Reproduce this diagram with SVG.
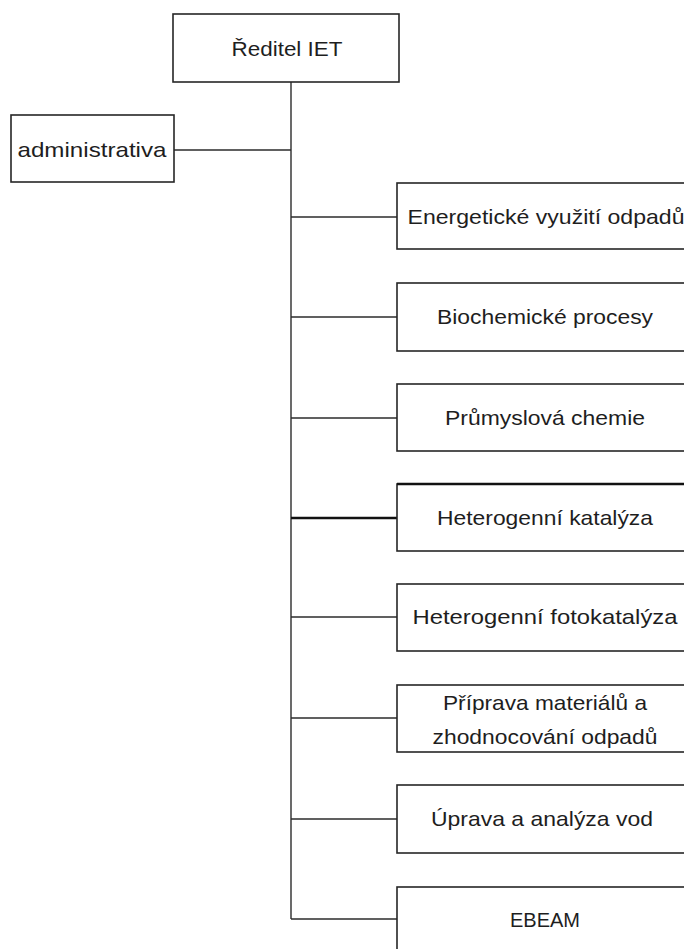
<svg xmlns="http://www.w3.org/2000/svg" width="684" height="949" viewBox="0 0 684 949">
<style>
.box{fill:#fff;stroke:#262626;stroke-width:1.6}
.ln{stroke:#2b2b2b;stroke-width:1.4;fill:none}
text{font-family:"Liberation Sans","Open Sans",sans-serif;font-size:21px;fill:#1e1e1e;text-anchor:middle}
</style>
<rect width="684" height="949" fill="#fff"/>
<g id="connectors">
<line class="ln" x1="291" y1="82" x2="291" y2="919"/>
<line class="ln" x1="174" y1="150" x2="291" y2="150"/>
<line class="ln" x1="291" y1="217" x2="397" y2="217"/>
<line class="ln" x1="291" y1="317" x2="397" y2="317"/>
<line class="ln" x1="291" y1="418" x2="397" y2="418"/>
<line class="ln" x1="291" y1="518" x2="397" y2="518" style="stroke-width:2.6;stroke:#111"/>
<line class="ln" x1="291" y1="617" x2="397" y2="617"/>
<line class="ln" x1="291" y1="718" x2="397" y2="718"/>
<line class="ln" x1="291" y1="819" x2="397" y2="819"/>
<line class="ln" x1="291" y1="919" x2="397" y2="919"/>
</g>
<g id="reditel"><rect class="box" x="173" y="14" width="226" height="68"/><text x="287" y="56" textLength="111" lengthAdjust="spacingAndGlyphs">Ředitel IET</text></g>
<g id="administrativa"><rect class="box" x="11" y="115" width="163" height="67"/><text x="92" y="157" textLength="149" lengthAdjust="spacingAndGlyphs">administrativa</text></g>
<g id="energeticke"><rect class="box" x="397" y="183" width="300" height="66"/><text x="546" y="224" textLength="277" lengthAdjust="spacingAndGlyphs">Energetické využití odpadů</text></g>
<g id="biochemicke"><rect class="box" x="397" y="283" width="300" height="68"/><text x="545" y="324" textLength="216" lengthAdjust="spacingAndGlyphs">Biochemické procesy</text></g>
<g id="prumyslova"><rect class="box" x="397" y="384" width="300" height="67"/><text x="545" y="425" textLength="200" lengthAdjust="spacingAndGlyphs">Průmyslová chemie</text></g>
<g id="heterogenni-katalyza"><rect class="box" x="397" y="484" width="300" height="67"/><line x1="397" y1="484" x2="697" y2="484" style="stroke:#111;stroke-width:2.4"/><text x="545" y="525" textLength="216" lengthAdjust="spacingAndGlyphs">Heterogenní katalýza</text></g>
<g id="fotokatalyza"><rect class="box" x="397" y="584" width="300" height="67"/><text x="545" y="624" textLength="265" lengthAdjust="spacingAndGlyphs">Heterogenní fotokatalýza</text></g>
<g id="priprava"><rect class="box" x="397" y="685" width="300" height="67"/><text x="545" y="710" textLength="204" lengthAdjust="spacingAndGlyphs">Příprava materiálů a</text><text x="545" y="744" textLength="225" lengthAdjust="spacingAndGlyphs">zhodnocování odpadů</text></g>
<g id="uprava"><rect class="box" x="397" y="785" width="300" height="68"/><text x="542" y="826" textLength="222" lengthAdjust="spacingAndGlyphs">Úprava a analýza vod</text></g>
<g id="ebeam"><rect class="box" x="397" y="887" width="300" height="80"/><text x="545" y="927" textLength="70" lengthAdjust="spacingAndGlyphs">EBEAM</text></g>
</svg>
